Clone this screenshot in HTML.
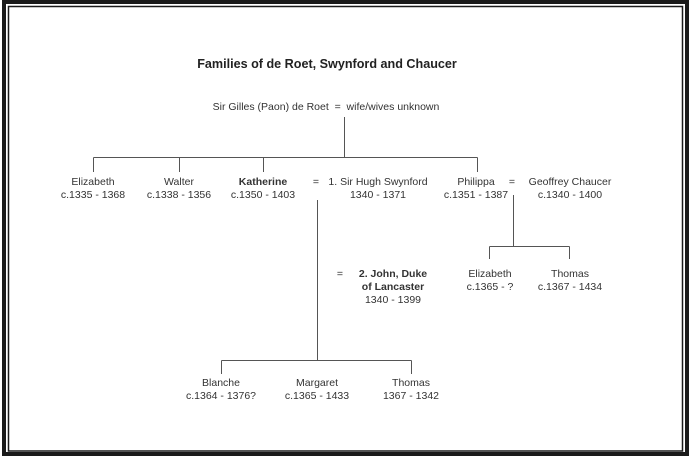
<!DOCTYPE html>
<html><head><meta charset="utf-8"><style>
html,body{margin:0;padding:0;background:#fff;}
svg{display:block;}
text{font-family:"Liberation Sans",Arial,sans-serif;font-size:10.5px;fill:#333;white-space:pre;}
.b{font-weight:bold;}
</style></head><body>
<svg width="694" height="461" viewBox="0 0 694 461" xmlns="http://www.w3.org/2000/svg">
<rect x="0" y="0" width="694" height="461" fill="#fff"/>
<rect x="4" y="2" width="683" height="452" fill="none" stroke="#1a1a1a" stroke-width="4"/>
<rect x="8.5" y="6.5" width="674" height="444.5" fill="none" stroke="#1a1a1a" stroke-width="1.5"/>
<text x="327" y="68" text-anchor="middle" class="b" style="font-size:12.6px;fill:#222">Families of de Roet, Swynford and Chaucer</text>
<text x="326" y="110" text-anchor="middle" xml:space="preserve">Sir Gilles (Paon) de Roet  =  wife/wives unknown</text>
<g stroke="#555" stroke-width="1" fill="none">
<path d="M344.5 117V157.5M93.5 157.5H477.5M93.5 157.5V172M179.5 157.5V172M263.5 157.5V172M477.5 157.5V172"/>
<path d="M317.5 200V360.5M221.5 360.5H411.5M221.5 360.5V374M411.5 360.5V374"/>
<path d="M513.5 195V246.5M489.5 246.5H569.5M489.5 246.5V259M569.5 246.5V259"/>
</g>
<text x="93" y="185" text-anchor="middle">Elizabeth</text>
<text x="93" y="198" text-anchor="middle">c.1335 - 1368</text>
<text x="179" y="185" text-anchor="middle">Walter</text>
<text x="179" y="198" text-anchor="middle">c.1338 - 1356</text>
<text x="263" y="185" text-anchor="middle" class="b">Katherine</text>
<text x="263" y="198" text-anchor="middle">c.1350 - 1403</text>
<text x="316" y="185" text-anchor="middle">=</text>
<text x="378" y="185" text-anchor="middle">1. Sir Hugh Swynford</text>
<text x="378" y="198" text-anchor="middle">1340 - 1371</text>
<text x="476" y="185" text-anchor="middle">Philippa</text>
<text x="476" y="198" text-anchor="middle">c.1351 - 1387</text>
<text x="512" y="185" text-anchor="middle">=</text>
<text x="570" y="185" text-anchor="middle">Geoffrey Chaucer</text>
<text x="570" y="198" text-anchor="middle">c.1340 - 1400</text>
<text x="340" y="277" text-anchor="middle">=</text>
<text x="393" y="277" text-anchor="middle" class="b">2. John, Duke</text>
<text x="393" y="290" text-anchor="middle" class="b">of Lancaster</text>
<text x="393" y="303" text-anchor="middle">1340 - 1399</text>
<text x="490" y="277" text-anchor="middle">Elizabeth</text>
<text x="490" y="290" text-anchor="middle">c.1365 - ?</text>
<text x="570" y="277" text-anchor="middle">Thomas</text>
<text x="570" y="290" text-anchor="middle">c.1367 - 1434</text>
<text x="221" y="386" text-anchor="middle">Blanche</text>
<text x="221" y="399" text-anchor="middle">c.1364 - 1376?</text>
<text x="317" y="386" text-anchor="middle">Margaret</text>
<text x="317" y="399" text-anchor="middle">c.1365 - 1433</text>
<text x="411" y="386" text-anchor="middle">Thomas</text>
<text x="411" y="399" text-anchor="middle">1367 - 1342</text>
</svg>
</body></html>
